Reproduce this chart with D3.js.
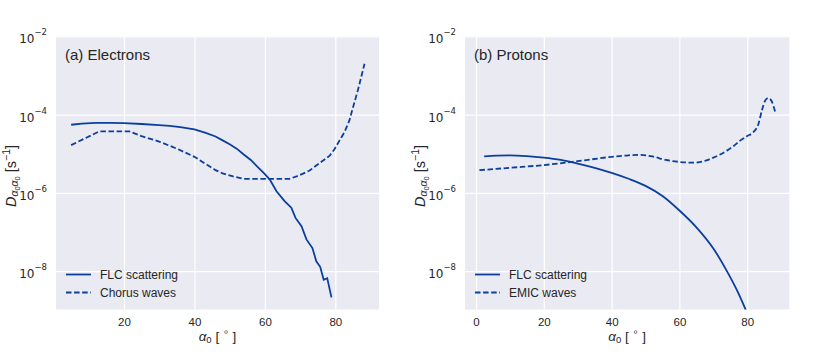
<!DOCTYPE html>
<html>
<head>
<meta charset="utf-8">
<script src="https://cdn.jsdelivr.net/npm/d3@7"></script>
<style>
  html, body { margin: 0; padding: 0; background: #ffffff; }
  svg { display: block; }
  text { font-family: "Liberation Sans", Arial, "DejaVu Sans", sans-serif; fill: #262626; }
</style>
</head>
<body>
<svg id="chart" width="830" height="360"></svg>
<script>
// ---------------- data ----------------
const elecFLCAngle = [5, 8, 12, 16, 20, 25, 30, 33, 36, 40, 43, 46, 48, 50, 52, 54, 56, 58, 60, 61.4, 63.3, 65.6, 67.5, 68.7, 70.4, 71.8, 73.5, 74.6, 75.7, 76.7, 77.7, 78.9];
const elecFLC = [5.50e-5, 5.89e-5, 6.17e-5, 6.17e-5, 6.03e-5, 5.75e-5, 5.37e-5, 5.13e-5, 4.79e-5, 4.17e-5, 3.47e-5, 2.75e-5, 2.19e-5, 1.74e-5, 1.35e-5, 9.55e-6, 6.92e-6, 4.57e-6, 3.02e-6, 2.19e-6, 1.10e-6, 6.17e-7, 4.17e-7, 2.29e-7, 1.41e-7, 6.46e-8, 3.89e-8, 1.78e-8, 1.29e-8, 6.03e-9, 6.61e-9, 2.14e-9];

const chorusAngle = [5, 13, 21.5, 25, 30, 35, 40, 43, 46, 48, 51, 54, 67, 69, 71, 72.7, 75.5, 78.4, 79.8, 81.2, 82.6, 84, 84.9, 86.4, 87.6, 88.3];
const chorus = [1.66e-5, 3.72e-5, 3.72e-5, 2.82e-5, 2.04e-5, 1.35e-5, 8.32e-6, 5.62e-6, 3.80e-6, 3.16e-6, 2.63e-6, 2.29e-6, 2.29e-6, 2.63e-6, 3.16e-6, 3.72e-6, 5.75e-6, 8.91e-6, 1.32e-5, 2.19e-5, 3.55e-5, 7.08e-5, 1.41e-4, 4.17e-4, 1.12e-3, 2.00e-3];

const protFLCAngle = [2.4, 6, 10, 15, 20, 25, 30, 35, 40, 45, 50, 55, 60, 65, 70, 74, 77.3, 79.6];
const protFLC = [8.51e-6, 8.91e-6, 9.12e-6, 8.71e-6, 7.94e-6, 6.92e-6, 5.62e-6, 4.37e-6, 3.24e-6, 2.29e-6, 1.51e-6, 8.32e-7, 3.55e-7, 1.32e-7, 3.80e-8, 1.0e-8, 2.82e-9, 1.0e-9];

const emicAngle = [1, 10, 20, 30, 40, 45, 48, 52, 56, 60, 64, 68, 70, 72, 74, 76, 78, 80, 81.8, 83.3, 84.3, 85.3, 86.2, 87.2, 88.2];
const emic = [3.80e-6, 4.37e-6, 5.13e-6, 6.46e-6, 8.32e-6, 9.12e-6, 9.33e-6, 8.51e-6, 6.92e-6, 6.17e-6, 5.89e-6, 6.76e-6, 7.94e-6, 9.55e-6, 1.20e-5, 1.58e-5, 2.19e-5, 2.82e-5, 3.55e-5, 5.75e-5, 1.26e-4, 2.29e-4, 2.63e-4, 2.19e-4, 1.20e-4];

const panelTitles = ["(a) Electrons", "(b) Protons"];
const legendLabels = [["FLC scattering", "Chorus waves"], ["FLC scattering", "EMIC waves"]];
const xTicksLeft = [20, 40, 60, 80];
const xTicksRight = [0, 20, 40, 60, 80];
const yTickExponents = [-8, -6, -4, -2];

// ---------------- layout ----------------
const svg = d3.select("#chart");
const color = "#0b3f9e";
const bg = "#eaeaf2";
const plotTop = 36.3, plotBottom = 309.5;
const dashPattern = "5.5,2.6";

const panels = [
  { x0: 56, x1: 379, xdom: [0.7, 92.4], xticks: xTicksLeft, title: panelTitles[0], legend: legendLabels[0],
    series: [{ x: elecFLCAngle, y: elecFLC, dash: null, curve: d3.curveLinear },
             { x: chorusAngle, y: chorus, dash: dashPattern, curve: d3.curveLinear }] },
  { x0: 465, x1: 789.3, xdom: [-3.25, 92.4], xticks: xTicksRight, title: panelTitles[1], legend: legendLabels[1],
    series: [{ x: protFLCAngle, y: protFLC, dash: null, curve: d3.curveMonotoneX },
             { x: emicAngle, y: emic, dash: dashPattern, curve: d3.curveMonotoneX }] }
];

const y = d3.scaleLog().domain([Math.pow(10, -8.98), 1e-2]).range([plotBottom, plotTop]);

panels.forEach((p, i) => {
  const x = d3.scaleLinear().domain(p.xdom).range([p.x0, p.x1]);
  const g = svg.append("g");

  g.append("rect").attr("x", p.x0).attr("y", plotTop).attr("width", p.x1 - p.x0).attr("height", plotBottom - plotTop).attr("fill", bg);

  const gx = g.append("g").attr("transform", `translate(0,${plotBottom})`)
    .call(d3.axisBottom(x).tickValues(p.xticks).tickSize(-(plotBottom - plotTop)).tickPadding(8.2).tickFormat(d3.format("d")));
  gx.select(".domain").remove();
  gx.selectAll("line").attr("stroke", "#ffffff").attr("stroke-width", 1.2);
  gx.selectAll("text").attr("font-size", "11.5px").attr("fill", "#262626")
    .style("font-family", '"Liberation Sans", Arial, sans-serif');

  const gy = g.append("g").attr("transform", `translate(${p.x0},0)`)
    .call(d3.axisLeft(y).tickValues(yTickExponents.map(e => Math.pow(10, e))).tickSize(-(p.x1 - p.x0)).tickPadding(9).tickFormat(() => ""));
  gy.select(".domain").remove();
  gy.selectAll("line").attr("stroke", "#ffffff").attr("stroke-width", 1.2);
  gy.selectAll(".tick text").each(function(d) {
    const t = d3.select(this);
    const e = Math.round(Math.log10(d));
    t.attr("dy", null).attr("y", 6.5).attr("x", -9).attr("text-anchor", "end")
      .style("font-family", '"DejaVu Sans", sans-serif').attr("fill", "#262626");
    t.append("tspan").attr("font-size", "12px").text("10");
    t.append("tspan").attr("font-size", "8.5px").attr("dy", -8).text("\u2212" + Math.abs(e));
  });

  const clipId = "clip" + i;
  svg.append("clipPath").attr("id", clipId).append("rect")
    .attr("x", p.x0).attr("y", plotTop).attr("width", p.x1 - p.x0).attr("height", plotBottom - plotTop);

  p.series.forEach(s => {
    const pts = s.x.map((a, k) => [a, s.y[k]]);
    const line = d3.line().x(d => x(d[0])).y(d => y(d[1])).curve(s.curve);
    g.append("path").attr("d", line(pts)).attr("fill", "none").attr("stroke", color)
      .attr("stroke-width", 1.8).attr("stroke-dasharray", s.dash).attr("clip-path", `url(#${clipId})`);
  });

  g.append("text").attr("x", p.x0 + 9).attr("y", 59.5).attr("font-size", "15px").text(p.title);

  p.legend.forEach((lab, k) => {
    const ly = 274.5 + k * 18;
    g.append("line").attr("x1", p.x0 + 10).attr("x2", p.x0 + 35).attr("y1", ly).attr("y2", ly)
      .attr("stroke", color).attr("stroke-width", 1.8).attr("stroke-dasharray", k === 1 ? dashPattern : null);
    g.append("text").attr("x", p.x0 + 44).attr("y", ly + 4.2).attr("font-size", "12px").text(lab);
  });

  const cx = (p.x0 + p.x1) / 2;
  const xl = g.append("text").attr("x", cx).attr("y", 340.5).attr("text-anchor", "middle").attr("font-size", "13.5px");
  xl.append("tspan").attr("font-style", "italic").text("\u03b1");
  xl.append("tspan").attr("font-size", "9.5px").attr("dy", 2.5).text("0");
  xl.append("tspan").attr("dy", -2.5).text(" [ ");
  xl.append("tspan").attr("font-size", "9.5px").attr("dy", -5.5).text("\u2218");
  xl.append("tspan").attr("dy", 5.5).text(" ]");

  const lx = p.x0 - 40.5, lyc = 176;
  const yl = g.append("text").attr("transform", `translate(${lx},${lyc}) rotate(-90)`)
    .attr("text-anchor", "middle").attr("font-size", "14.5px");
  yl.append("tspan").attr("font-style", "italic").text("D");
  yl.append("tspan").attr("font-style", "italic").attr("font-size", "10.5px").attr("dy", 2.5).text("\u03b1");
  yl.append("tspan").attr("font-size", "7.5px").attr("dy", 1.5).text("0");
  yl.append("tspan").attr("font-style", "italic").attr("font-size", "10.5px").attr("dy", -1.5).text("\u03b1");
  yl.append("tspan").attr("font-size", "7.5px").attr("dy", 1.5).text("0");
  yl.append("tspan").attr("dy", -4).text(" [s");
  yl.append("tspan").attr("font-size", "10.5px").attr("dy", -6).text("\u22121");
  yl.append("tspan").attr("dy", 6).text("]");
});
</script>
</body>
</html>
